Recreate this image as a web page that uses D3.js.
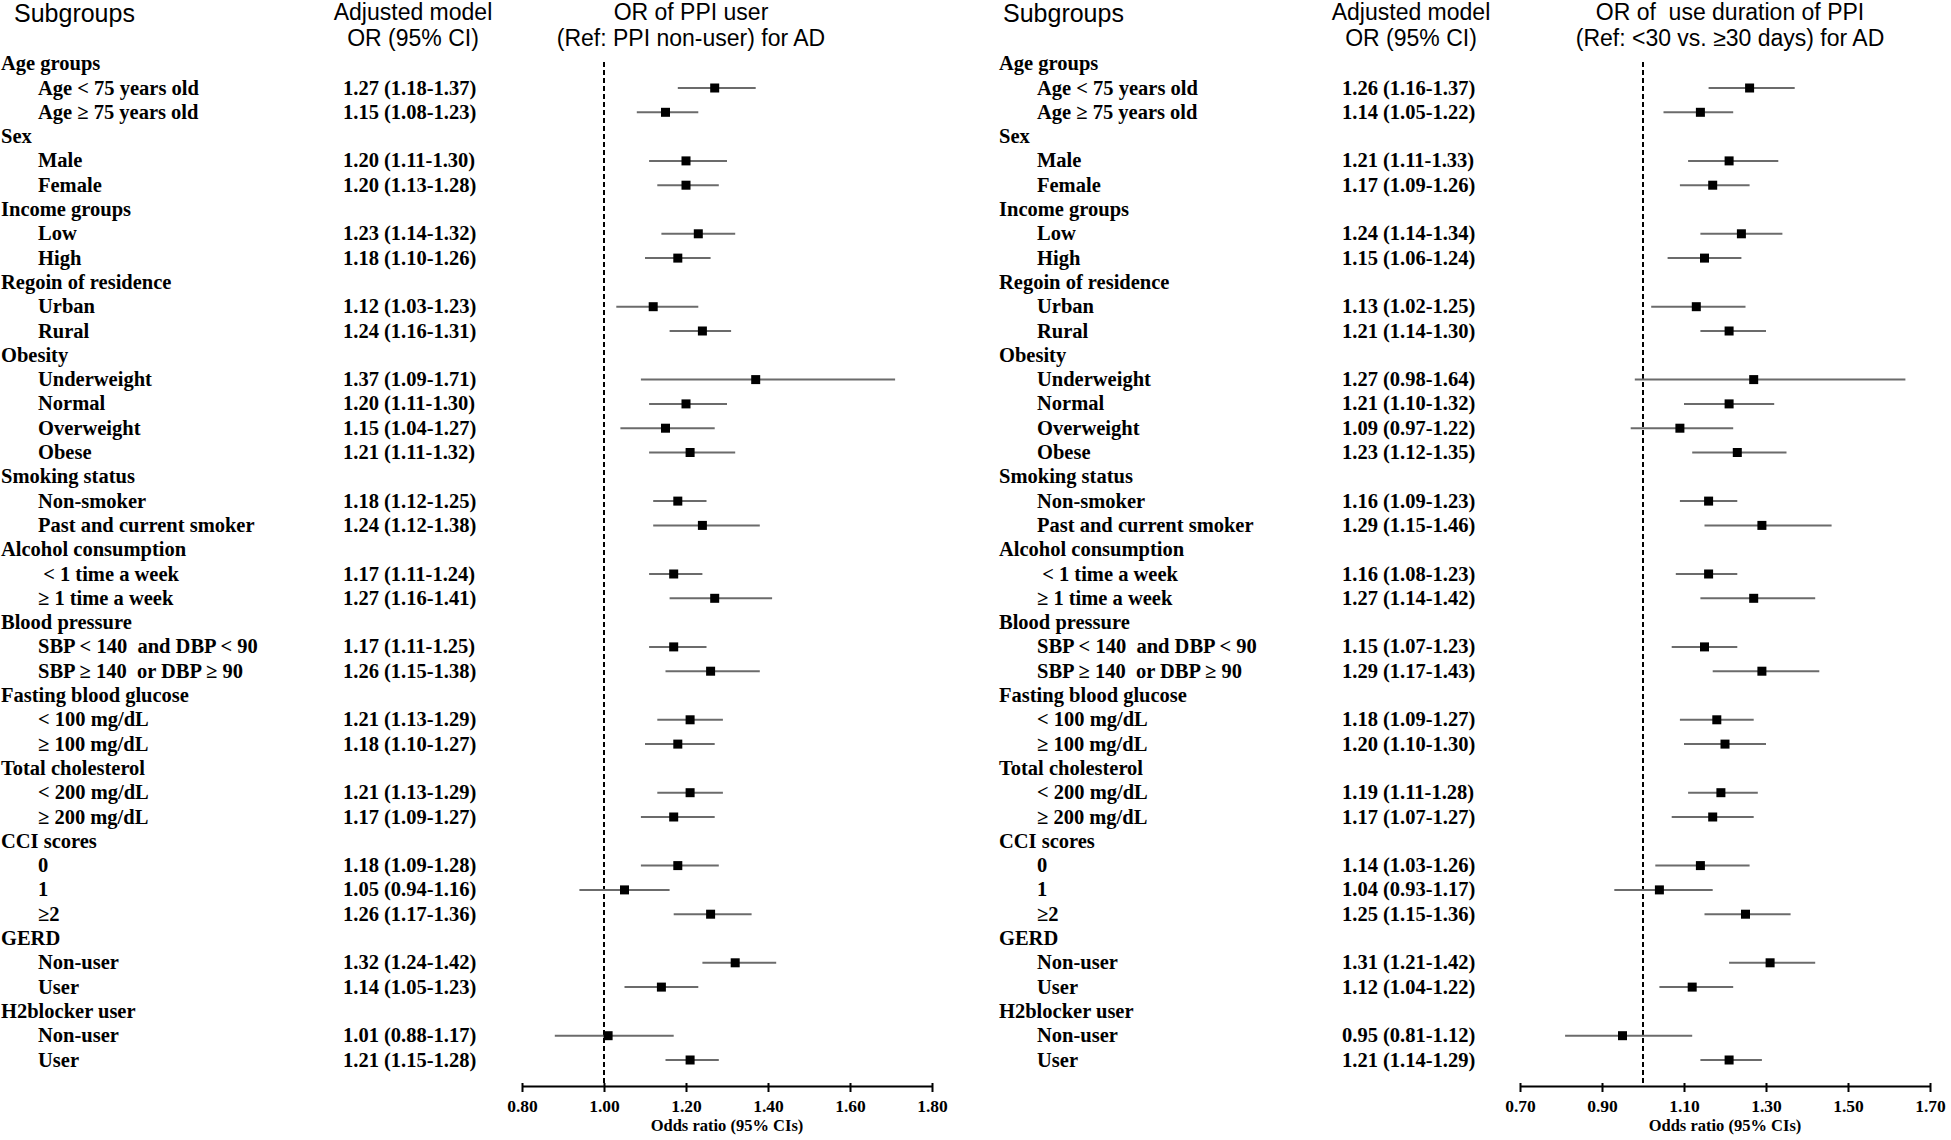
<!DOCTYPE html>
<html>
<head>
<meta charset="utf-8">
<script src="https://cdn.jsdelivr.net/npm/d3@7"></script>
<style>
  html, body { margin: 0; padding: 0; background: #fff; }
  svg text { white-space: pre; }
</style>
</head>
<body>
<svg id="chart" width="1951" height="1140"></svg>
<script>
// ---------- DATA ----------
const groupNames = [
  "Age groups", "Sex", "Income groups", "Regoin of residence", "Obesity",
  "Smoking status", "Alcohol consumption", "Blood pressure",
  "Fasting blood glucose", "Total cholesterol", "CCI scores", "GERD", "H2blocker user"
];
const groupItems = [
  ["Age < 75 years old", "Age \u2265 75 years old"],
  ["Male", "Female"],
  ["Low", "High"],
  ["Urban", "Rural"],
  ["Underweight", "Normal", "Overweight", "Obese"],
  ["Non-smoker", "Past and current smoker"],
  [" < 1 time a week", "\u2265 1 time a week"],
  ["SBP < 140  and DBP < 90", "SBP \u2265 140  or DBP \u2265 90"],
  ["< 100 mg/dL", "\u2265 100 mg/dL"],
  ["< 200 mg/dL", "\u2265 200 mg/dL"],
  ["0", "1", "\u22652"],
  ["Non-user", "User"],
  ["Non-user", "User"]
];

// Left panel: OR of PPI user (Ref: PPI non-user)
const ppiOR   = [1.27,1.15, 1.20,1.20, 1.23,1.18, 1.12,1.24, 1.37,1.20,1.15,1.21, 1.18,1.24, 1.17,1.27, 1.17,1.26, 1.21,1.18, 1.21,1.17, 1.18,1.05,1.26, 1.32,1.14, 1.01,1.21];
const ppiLow  = [1.18,1.08, 1.11,1.13, 1.14,1.10, 1.03,1.16, 1.09,1.11,1.04,1.11, 1.12,1.12, 1.11,1.16, 1.11,1.15, 1.13,1.10, 1.13,1.09, 1.09,0.94,1.17, 1.24,1.05, 0.88,1.15];
const ppiHigh = [1.37,1.23, 1.30,1.28, 1.32,1.26, 1.23,1.31, 1.71,1.30,1.27,1.32, 1.25,1.38, 1.24,1.41, 1.25,1.38, 1.29,1.27, 1.29,1.27, 1.28,1.16,1.36, 1.42,1.23, 1.17,1.28];

// Right panel: OR of use duration of PPI
const durOR   = [1.26,1.14, 1.21,1.17, 1.24,1.15, 1.13,1.21, 1.27,1.21,1.09,1.23, 1.16,1.29, 1.16,1.27, 1.15,1.29, 1.18,1.20, 1.19,1.17, 1.14,1.04,1.25, 1.31,1.12, 0.95,1.21];
const durLow  = [1.16,1.05, 1.11,1.09, 1.14,1.06, 1.02,1.14, 0.98,1.10,0.97,1.12, 1.09,1.15, 1.08,1.14, 1.07,1.17, 1.09,1.10, 1.11,1.07, 1.03,0.93,1.15, 1.21,1.04, 0.81,1.14];
const durHigh = [1.37,1.22, 1.33,1.26, 1.34,1.24, 1.25,1.30, 1.64,1.32,1.22,1.35, 1.23,1.46, 1.23,1.42, 1.23,1.43, 1.27,1.30, 1.28,1.27, 1.26,1.17,1.36, 1.42,1.22, 1.12,1.29];

const ppiTicks = [0.80, 1.00, 1.20, 1.40, 1.60, 1.80];
const durTicks = [0.70, 0.90, 1.10, 1.30, 1.50, 1.70];

const ppiTitle = ["OR of PPI user", "(Ref: PPI non-user) for AD"];
const durTitle = ["OR of  use duration of PPI", "(Ref: <30 vs. \u226530 days) for AD"];
const colTitle = ["Adjusted model", "OR (95% CI)"];
const subTitle = "Subgroups";
const axisTitle = "Odds ratio (95% CIs)";

// ---------- LAYOUT ----------
const svg = d3.select("#chart");
const SANS = "'Liberation Sans', Arial, sans-serif";
const SERIF = "'Liberation Serif', 'Times New Roman', serif";
const fmt = d3.format(".2f");

// build rows
const rows = [];
let k = 0;
groupNames.forEach((g, gi) => {
  rows.push({ label: g, header: true });
  groupItems[gi].forEach(it => { rows.push({ label: it, header: false, idx: k }); k++; });
});

const y = d3.scaleLinear().domain([0, rows.length - 1]).range([63.7, 1060]);
const axisY = 1086;
const lineTop = 62;

function panel(cfg) {
  const g = svg.append("g");
  const x = d3.scaleLinear().domain(cfg.domain).range(cfg.range);

  // column headers
  g.append("text").attr("x", cfg.subX).attr("y", 22)
    .attr("font-family", SANS).attr("font-size", 25).text(subTitle);
  colTitle.forEach((t, i) => {
    g.append("text").attr("x", cfg.colX).attr("y", 20 + i * 26)
      .attr("text-anchor", "middle").attr("font-family", SANS).attr("font-size", 23).text(t);
  });
  cfg.title.forEach((t, i) => {
    g.append("text").attr("x", cfg.titleX).attr("y", 20 + i * 26)
      .attr("text-anchor", "middle").attr("font-family", SANS).attr("font-size", 23).text(t);
  });

  // row labels
  g.selectAll("text.lab").data(rows).enter().append("text")
    .attr("class", "lab")
    .attr("x", d => d.header ? cfg.hdrX : cfg.itemX)
    .attr("y", (d, i) => y(i) + 6.5)
    .attr("font-family", SERIF).attr("font-weight", "bold").attr("font-size", 20.5)
    .text(d => d.label);

  // values column
  const dataRows = rows.map((r, i) => ({ ...r, ri: i })).filter(r => !r.header);
  g.selectAll("text.val").data(dataRows).enter().append("text")
    .attr("class", "val")
    .attr("x", cfg.valX)
    .attr("y", d => y(d.ri) + 6.5)
    .attr("font-family", SERIF).attr("font-weight", "bold").attr("font-size", 20.5)
    .text(d => `${fmt(cfg.or[d.idx])} (${fmt(cfg.lo[d.idx])}-${fmt(cfg.hi[d.idx])})`);

  // reference dashed line at 1
  g.append("line").attr("x1", x(1)).attr("x2", x(1)).attr("y1", lineTop).attr("y2", axisY)
    .attr("stroke", "#000").attr("stroke-width", 2).attr("stroke-dasharray", "5,3");

  // CI lines
  g.selectAll("line.ci").data(dataRows).enter().append("line")
    .attr("class", "ci")
    .attr("x1", d => x(cfg.lo[d.idx])).attr("x2", d => x(cfg.hi[d.idx]))
    .attr("y1", d => y(d.ri)).attr("y2", d => y(d.ri))
    .attr("stroke", "#6b6b6b").attr("stroke-width", 2);

  // point markers
  const s = 9;
  g.selectAll("rect.pt").data(dataRows).enter().append("rect")
    .attr("class", "pt")
    .attr("x", d => x(cfg.or[d.idx]) - s / 2).attr("y", d => y(d.ri) - s / 2)
    .attr("width", s).attr("height", s).attr("fill", "#000");

  // axis
  const ax = g.append("g").attr("transform", `translate(0,${axisY})`)
    .call(d3.axisBottom(x).tickValues(cfg.ticks).tickFormat(fmt).tickSize(6).tickSizeOuter(0));
  ax.select(".domain").attr("stroke", "#000").attr("stroke-width", 2);
  ax.selectAll(".tick line").attr("y1", -3).attr("y2", 6).attr("stroke", "#000").attr("stroke-width", 2);
  ax.selectAll(".tick text").attr("y", 26).attr("dy", 0)
    .attr("font-family", SERIF).attr("font-weight", "bold").attr("font-size", 17.5).attr("fill", "#000");

  g.append("text").attr("x", (cfg.range[0] + cfg.range[1]) / 2).attr("y", 1131)
    .attr("text-anchor", "middle").attr("font-family", SERIF).attr("font-weight", "bold")
    .attr("font-size", 16.5).text(axisTitle);
}

panel({
  domain: [0.8, 1.8], range: [522, 932], ticks: ppiTicks,
  or: ppiOR, lo: ppiLow, hi: ppiHigh, title: ppiTitle,
  subX: 14, colX: 413, titleX: 691, hdrX: 1, itemX: 38, valX: 343
});
panel({
  domain: [0.7, 1.7], range: [1520, 1930], ticks: durTicks,
  or: durOR, lo: durLow, hi: durHigh, title: durTitle,
  subX: 1003, colX: 1411, titleX: 1730, hdrX: 999, itemX: 1037, valX: 1342
});
</script>
</body>
</html>
